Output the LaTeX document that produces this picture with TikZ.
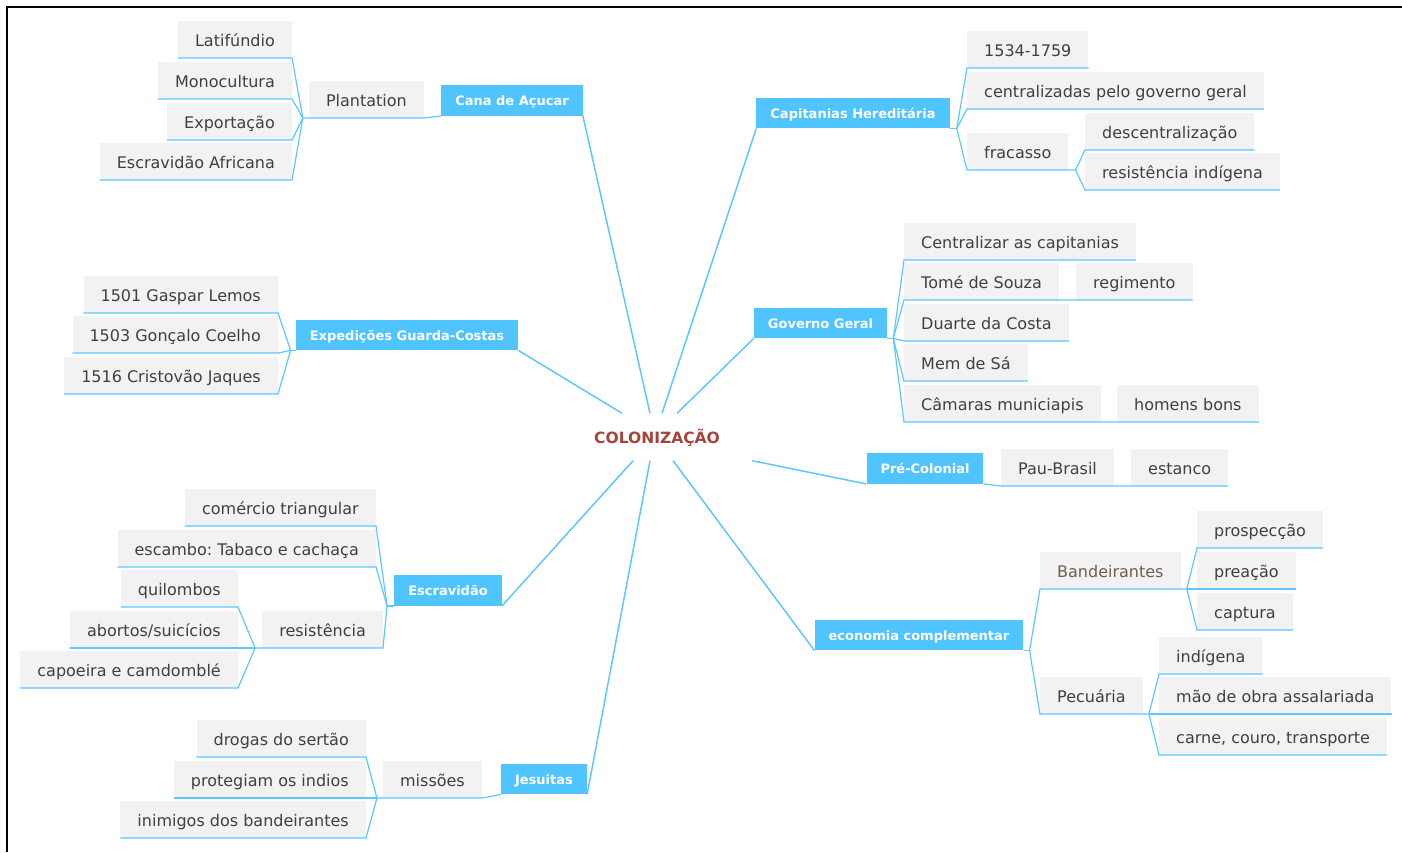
\documentclass[tikz,border=0pt]{standalone}
\usepackage{fontspec}
\setmainfont{DejaVu Sans}
\frenchspacing
\definecolor{mainBlue}{HTML}{50C4FF}
\definecolor{lineBlue}{HTML}{5CC8FF}
\definecolor{boxGray}{HTML}{F2F2F2}
\definecolor{textGray}{HTML}{404040}
\definecolor{rootRed}{HTML}{A5433A}
\definecolor{bandBrown}{HTML}{6E5F50}
\tikzset{
  topic/.style={fill=boxGray, text=textGray, font=\fontsize{16}{19}\selectfont,
    inner xsep=17pt, inner ysep=0pt, minimum height=37pt, text height=13.7pt, text depth=0pt},
  maintopic/.style={fill=mainBlue, text=white, font=\fontsize{13}{15}\selectfont\bfseries,
    inner xsep=14pt, inner ysep=0pt, minimum height=30.5pt, text height=10.5pt, text depth=0pt},
  branch/.style={draw=lineBlue, line width=1.2pt},
  ray/.style={draw=lineBlue, line width=1.5pt},
}

\begin{document}
\begin{tikzpicture}[x=1pt,y=-1pt]
    \useasboundingbox (0,0) rectangle (1402,852);
    \draw[line width=2.5pt] (7,852) -- (7,7) -- (1402,7);

    \node[minimum width=190pt, minimum height=47pt, text=rootRed, text height=12.5pt, text depth=0pt,
      font=\fontsize{15.5}{18}\selectfont\bfseries] (root) at (657,437) {COLONIZAÇÃO};

    \node[maintopic] (cana) at (512,100.5) {Cana de Açucar};
    \node[maintopic] (exped) at (407,335) {Expedições Guarda-Costas};
    \node[maintopic] (escrav) at (448,590.5) {Escravidão};
    \node[maintopic] (jesuit) at (544,779) {Jesuitas};
    \node[maintopic] (capit) at (853,113) {Capitanias Hereditária};
    \node[maintopic] (govger) at (820.5,323) {Governo Geral};
    \node[maintopic] (precol) at (925,468.5) {Pré-Colonial};
    \node[maintopic] (econ) at (919,635) {economia complementar};

    \draw[ray] ([xshift=-7pt]root.north) -- (cana.south east);
    \draw[ray] ([xshift=5pt]root.north) -- (capit.south west);
    \draw[ray] ([xshift=20pt]root.north) -- (govger.south west);
    \draw[ray] ([xshift=-35pt]root.north) -- (exped.south east);
    \draw[ray] (root.south east) -- (precol.south west);
    \draw[ray] ([xshift=-24pt]root.south) -- (escrav.south east);
    \draw[ray] ([xshift=-7pt]root.south) -- (jesuit.south east);
    \draw[ray] ([xshift=16pt]root.south) -- (econ.south west);

    % Cana de Acucar
    \node[topic, anchor=south east] (plant) at (424,118) {Plantation};
    \node[topic, anchor=south east] (latif) at (292,58) {Latifúndio};
    \node[topic, anchor=south east] (monoc) at (292,99) {Monocultura};
    \node[topic, anchor=south east] (export) at (292,140) {Exportação};
    \node[topic, anchor=south east] (escafr) at (292,180) {Escravidão Africana};
    \coordinate (jPlant) at ([xshift=-6pt]plant.south west);
    \draw[branch] (cana.south west) -- (plant.south east) -- (plant.south west) -- (jPlant);
    \draw[branch] (jPlant) -- (latif.south east) -- (latif.south west);
    \draw[branch] (jPlant) -- (monoc.south east) -- (monoc.south west);
    \draw[branch] (jPlant) -- (export.south east) -- (export.south west);
    \draw[branch] (jPlant) -- (escafr.south east) -- (escafr.south west);

    % Expedicoes
    \node[topic, anchor=south east] (gaspar) at (278,313) {1501 Gaspar Lemos};
    \node[topic, anchor=south east] (goncal) at (278,353) {1503 Gonçalo Coelho};
    \node[topic, anchor=south east] (cristo) at (278,394) {1516 Cristovão Jaques};
    \coordinate (jExped) at ([xshift=-5pt]exped.south west);
    \draw[branch] (exped.south west) -- (jExped);
    \draw[branch] (jExped) -- (gaspar.south east) -- (gaspar.south west);
    \draw[branch] (jExped) -- (goncal.south east) -- (goncal.south west);
    \draw[branch] (jExped) -- (cristo.south east) -- (cristo.south west);

    % Escravidao
    \node[topic, anchor=south east] (comerc) at (376,526) {comércio triangular};
    \node[topic, anchor=south east] (escamb) at (376,567) {escambo: Tabaco e cachaça};
    \node[topic, anchor=south east] (resist) at (383,648) {resistência};
    \node[topic, anchor=south east] (quilom) at (238,607) {quilombos};
    \node[topic, anchor=south east] (aborto) at (238,648) {abortos/suicícios};
    \node[topic, anchor=south east] (capoei) at (238,688) {capoeira e camdomblé};
    \coordinate (jEscrav) at ([xshift=-7pt]escrav.south west);
    \coordinate (jResist) at ([xshift=-7pt]resist.south west);
    \draw[branch] (escrav.south west) -- (jEscrav);
    \draw[branch] (jEscrav) -- (comerc.south east) -- (comerc.south west);
    \draw[branch] (jEscrav) -- (escamb.south east) -- (escamb.south west);
    \draw[branch] (jEscrav) -- (resist.south east) -- (resist.south west) -- (jResist);
    \draw[branch] (jResist) -- (quilom.south east) -- (quilom.south west);
    \draw[branch] (jResist) -- (aborto.south east) -- (aborto.south west);
    \draw[branch] (jResist) -- (capoei.south east) -- (capoei.south west);

    % Jesuitas
    \node[topic, anchor=south east] (missoes) at (482,798) {missões};
    \node[topic, anchor=south east] (drogas) at (366,757) {drogas do sertão};
    \node[topic, anchor=south east] (proteg) at (366,798) {protegiam os indios};
    \node[topic, anchor=south east] (inimig) at (366,838) {inimigos dos bandeirantes};
    \coordinate (jMiss) at ([xshift=-6pt]missoes.south west);
    \draw[branch] (jesuit.south west) -- (missoes.south east) -- (missoes.south west) -- (jMiss);
    \draw[branch] (jMiss) -- (drogas.south east) -- (drogas.south west);
    \draw[branch] (jMiss) -- (proteg.south east) -- (proteg.south west);
    \draw[branch] (jMiss) -- (inimig.south east) -- (inimig.south west);

    % Capitanias Hereditaria
    \node[topic, anchor=south west] (datas) at (967,68) {1534-1759};
    \node[topic, anchor=south west] (centgov) at (967,109) {centralizadas pelo governo geral};
    \node[topic, anchor=south west] (fracas) at (967,170) {fracasso};
    \node[topic, anchor=south west] (descen) at (1085,150) {descentralização};
    \node[topic, anchor=south west] (resind) at (1085,190) {resistência indígena};
    \coordinate (jCapit) at ([xshift=7pt]capit.south east);
    \coordinate (jFracas) at ([xshift=7pt]fracas.south east);
    \draw[branch] (capit.south east) -- (jCapit);
    \draw[branch] (jCapit) -- (datas.south west) -- (datas.south east);
    \draw[branch] (jCapit) -- (centgov.south west) -- (centgov.south east);
    \draw[branch] (jCapit) -- (fracas.south west) -- (fracas.south east) -- (jFracas);
    \draw[branch] (jFracas) -- (descen.south west) -- (descen.south east);
    \draw[branch] (jFracas) -- (resind.south west) -- (resind.south east);

    % Governo Geral
    \node[topic, anchor=south west] (centcap) at (904,260) {Centralizar as capitanias};
    \node[topic, anchor=south west] (tome) at (904,300) {Tomé de Souza};
    \node[topic, anchor=south west] (regim) at (1076,300) {regimento};
    \node[topic, anchor=south west] (duarte) at (904,341) {Duarte da Costa};
    \node[topic, anchor=south west] (memsa) at (904,381) {Mem de Sá};
    \node[topic, anchor=south west] (camara) at (904,422) {Câmaras municiapis};
    \node[topic, anchor=south west] (homens) at (1117,422) {homens bons};
    \coordinate (jGov) at ([xshift=6pt]govger.south east);
    \draw[branch] (govger.south east) -- (jGov);
    \draw[branch] (jGov) -- (centcap.south west) -- (centcap.south east);
    \draw[branch] (jGov) -- (tome.south west) -- (tome.south east) -- (regim.south west) -- (regim.south east);
    \draw[branch] (jGov) -- (duarte.south west) -- (duarte.south east);
    \draw[branch] (jGov) -- (memsa.south west) -- (memsa.south east);
    \draw[branch] (jGov) -- (camara.south west) -- (camara.south east) -- (homens.south west) -- (homens.south east);

    % Pre-Colonial
    \node[topic, anchor=south west] (paubr) at (1001,486) {Pau-Brasil};
    \node[topic, anchor=south west] (estanc) at (1131,486) {estanco};
    \draw[branch] (precol.south east) -- (paubr.south west) -- (paubr.south east) -- (estanc.south west) -- (estanc.south east);

    % economia complementar
    \node[topic, anchor=south west, text=bandBrown] (bandei) at (1040,589) {Bandeirantes};
    \node[topic, anchor=south west] (pecuar) at (1040,714) {Pecuária};
    \node[topic, anchor=south west] (prosp) at (1197,548) {prospecção};
    \node[topic, anchor=south west] (preac) at (1197,589) {preação};
    \node[topic, anchor=south west] (captur) at (1197,630) {captura};
    \node[topic, anchor=south west] (indig) at (1159,674) {indígena};
    \node[topic, anchor=south west] (maoobr) at (1159,714) {mão de obra assalariada};
    \node[topic, anchor=south west] (carne) at (1159,755) {carne, couro, transporte};
    \coordinate (jEcon) at ([xshift=6pt]econ.south east);
    \coordinate (jBand) at ([xshift=6pt]bandei.south east);
    \coordinate (jPecu) at ([xshift=6pt]pecuar.south east);
    \draw[branch] (econ.south east) -- (jEcon);
    \draw[branch] (jEcon) -- (bandei.south west) -- (bandei.south east) -- (jBand);
    \draw[branch] (jEcon) -- (pecuar.south west) -- (pecuar.south east) -- (jPecu);
    \draw[branch] (jBand) -- (prosp.south west) -- (prosp.south east);
    \draw[branch] (jBand) -- (preac.south west) -- (preac.south east);
    \draw[branch] (jBand) -- (captur.south west) -- (captur.south east);
    \draw[branch] (jPecu) -- (indig.south west) -- (indig.south east);
    \draw[branch] (jPecu) -- (maoobr.south west) -- (maoobr.south east);
    \draw[branch] (jPecu) -- (carne.south west) -- (carne.south east);
\end{tikzpicture}
\end{document}
